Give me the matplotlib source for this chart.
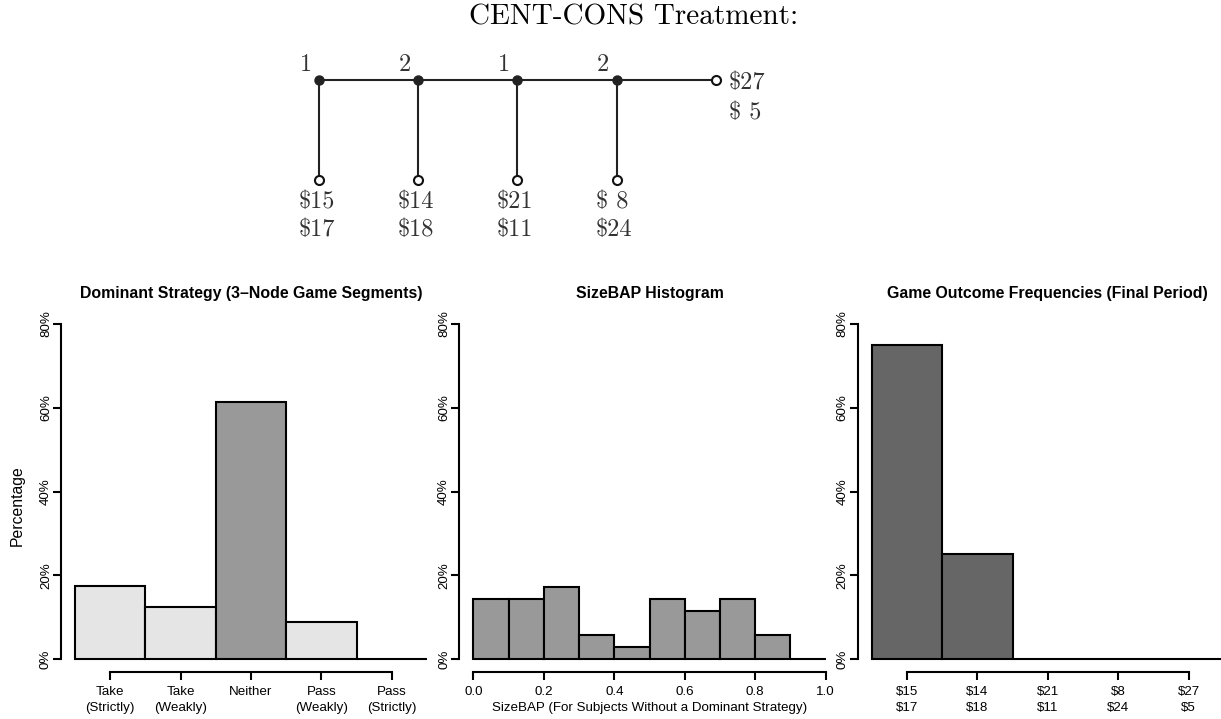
import matplotlib
matplotlib.use("Agg")
import matplotlib.pyplot as plt

# ---- data ----
players = ["1", "2", "1", "2"]
take_payoffs = [("$15", "$17"), ("$14", "$18"), ("$21", "$11"), ("$ 8", "$24")]
final_payoff = ("$27", "$ 5")

strategy_labels = ["Take\n(Strictly)", "Take\n(Weakly)", "Neither", "Pass\n(Weakly)", "Pass\n(Strictly)"]
strategy_pct = [17.5, 12.3, 61.4, 8.8, 0.0]

sizebap_edges = [0.0, 0.1, 0.2, 0.3, 0.4, 0.5, 0.6, 0.7, 0.8, 0.9, 1.0]
sizebap_pct = [14.3, 14.3, 17.1, 5.7, 2.9, 14.3, 11.4, 14.3, 5.7, 0.0]

outcome_labels = ["$15\n$17", "$14\n$18", "$21\n$11", "$8\n$24", "$27\n$5"]
outcome_pct = [75.0, 25.0, 0.0, 0.0, 0.0]

yticks = [0, 20, 40, 60, 80]

W, H = 1221, 719
fig = plt.figure(figsize=(W / 100, H / 100), dpi=100)
serif = ["cmr10", "DejaVu Serif"]
sans = ["Liberation Sans", "DejaVu Sans"]


def esc(s):
    return s.replace("$", r"\$")


def px_axes(left, top, right, bottom):
    return fig.add_axes([left / W, 1 - bottom / H, (right - left) / W, (bottom - top) / H])


# ---- game tree ----
fig.text(634 / W, 1 - 17.5 / H, "CENT-CONS Treatment:", family=serif, fontsize=21,
         ha="center", va="center")

x0, dx = 319, 99.2
tr = px_axes(x0 - dx, 30, x0 + 5 * dx, 250)
tr.set_xlim(-1, 5)
tr.set_ylim(-1.7, 0.5)
tr.axis("off")
n = len(players)
tr.plot([0, n], [0, 0], color="#222222", lw=1.5, zorder=1)
for i, p in enumerate(players):
    tr.plot([i, i], [0, -1], color="#222222", lw=1.5, zorder=1)
    tr.plot(i, 0, "o", color="#222222", ms=6.5, zorder=3)
    tr.plot(i, -1, "o", mfc="white", mec="#111111", mew=1.5, ms=6.5, zorder=3)
    tr.text(i - 0.135, 0.15, p, family=serif, fontsize=17.5, ha="center", va="center", color="#333333")
    top, bot = take_payoffs[i]
    tr.text(i - 0.21, -1.22, esc(top), family=serif, fontsize=17.5, ha="left", va="center", color="#333333")
    tr.text(i - 0.21, -1.50, esc(bot), family=serif, fontsize=17.5, ha="left", va="center", color="#333333")
tr.plot(n, 0, "o", mfc="white", mec="#111111", mew=1.5, ms=6.5, zorder=3)
tr.text(n + 0.13, -0.03, esc(final_payoff[0]), family=serif, fontsize=17.5, ha="left", va="center", color="#333333")
tr.text(n + 0.13, -0.33, esc(final_payoff[1]), family=serif, fontsize=17.5, ha="left", va="center", color="#333333")


# ---- bottom panels ----
def style(ax, xmin, xmax, tick_lo, tick_hi):
    ax.set_xlim(xmin, xmax)
    ax.set_ylim(-3.2, 83.2)
    for s in ["top", "right"]:
        ax.spines[s].set_visible(False)
    ax.spines["left"].set_bounds(0, 80)
    ax.spines["bottom"].set_bounds(tick_lo, tick_hi)
    for s in ["left", "bottom"]:
        ax.spines[s].set_linewidth(1.5)
    ax.set_yticks(yticks)
    ax.set_yticklabels([f"{v}%" for v in yticks], rotation=90, va="center", family=sans, fontsize=9.6)
    ax.tick_params(length=6, width=1.5)
    ax.tick_params(axis="y", pad=0.5)
    ax.tick_params(axis="x", pad=4)


top_px, bot_px = 310.6, 672.4
lab_kw = dict(family=sans, fontsize=9.6, linespacing=1.45)

a1 = px_axes(61, top_px, 441, bot_px)
style(a1, -0.2, 5.2, 0.5, 4.5)
cols1 = ["#e5e5e5", "#e5e5e5", "#999999", "#e5e5e5", "#e5e5e5"]
a1.bar([i + 0.5 for i in range(len(strategy_pct))], strategy_pct, width=1.0,
       color=cols1, edgecolor="black", linewidth=1.5)
a1.set_xticks([i + 0.5 for i in range(len(strategy_labels))])
a1.set_xticklabels(strategy_labels, **lab_kw)
a1.text(0.5, 1.046, "Dominant Strategy (3\u2013Node Game Segments)", transform=a1.transAxes,
        ha="center", va="center", family=sans, fontsize=11.4, fontweight="bold")
fig.text(17 / W, 1 - 506 / H, "Percentage", rotation=90, ha="center", va="center",
         family=sans, fontsize=11.3)

a2 = px_axes(459.2, top_px, 839.8, bot_px)
style(a2, -0.04, 1.04, 0.0, 1.0)
a2.bar(sizebap_edges[:-1], sizebap_pct, width=0.1, align="edge",
       color="#999999", edgecolor="black", linewidth=1.5)
a2.set_xticks([0.0, 0.2, 0.4, 0.6, 0.8, 1.0])
a2.set_xticklabels([f"{v:.1f}" for v in [0.0, 0.2, 0.4, 0.6, 0.8, 1.0]], **lab_kw)
a2.text(0.5, 1.046, "SizeBAP Histogram", transform=a2.transAxes,
        ha="center", va="center", family=sans, fontsize=11.4, fontweight="bold")
fig.text(649.5 / W, 1 - 707.7 / H, "SizeBAP (For Subjects Without a Dominant Strategy)",
         ha="center", va="center", family=sans, fontsize=9.6)

a3 = px_axes(857.7, top_px, 1238, bot_px)
style(a3, -0.2, 5.2, 0.5, 4.5)
a3.bar([i + 0.5 for i in range(len(outcome_pct))], outcome_pct, width=1.0,
       color="#666666", edgecolor="black", linewidth=1.5)
a3.set_xticks([i + 0.5 for i in range(len(outcome_labels))])
a3.set_xticklabels([esc(s) for s in outcome_labels], **lab_kw)
a3.text(0.5, 1.046, "Game Outcome Frequencies (Final Period)", transform=a3.transAxes,
        ha="center", va="center", family=sans, fontsize=11.4, fontweight="bold")

fig.savefig("out.png", dpi=100)
